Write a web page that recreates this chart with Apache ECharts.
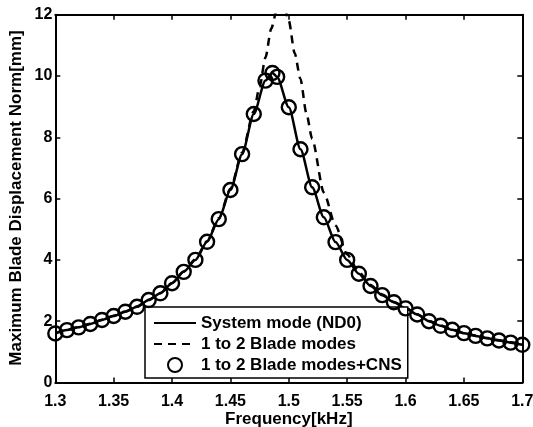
<!DOCTYPE html>
<html>
<head>
<meta charset="utf-8">
<script src="https://cdn.jsdelivr.net/npm/echarts@6/dist/echarts.min.js"></script>
<style>
  html, body { margin: 0; padding: 0; background: #fff; }
  #chart { width: 533px; height: 427px; }
</style>
</head>
<body>
<div id="chart"></div>
<script>
// Frequency sweep [kHz] for the system-mode solution and the CNS markers
const freqs = [1.30,1.31,1.32,1.33,1.34,1.35,1.36,1.37,1.38,1.39,1.40,1.41,1.42,1.43,1.44,1.45,1.46,1.47,1.48,1.486,1.49,1.50,1.51,1.52,1.53,1.54,1.55,1.56,1.57,1.58,1.59,1.60,1.61,1.62,1.63,1.64,1.65,1.66,1.67,1.68,1.69,1.70];

// System mode (ND0) response [mm]
const systemMode = [1.60,1.71,1.80,1.91,2.04,2.17,2.31,2.47,2.69,2.91,3.24,3.61,4.00,4.59,5.33,6.28,7.45,8.76,9.85,10.10,9.97,8.98,7.61,6.37,5.39,4.58,4.00,3.55,3.15,2.85,2.62,2.42,2.22,2.00,1.85,1.72,1.61,1.52,1.44,1.37,1.30,1.23];

// 1 to 2 Blade modes + CNS response [mm]
const bladeCns = [1.60,1.71,1.80,1.91,2.04,2.17,2.31,2.47,2.69,2.91,3.24,3.61,4.00,4.59,5.33,6.28,7.45,8.76,9.85,10.10,9.97,8.98,7.61,6.37,5.39,4.58,4.00,3.55,3.15,2.85,2.62,2.42,2.22,2.00,1.85,1.72,1.61,1.52,1.44,1.37,1.30,1.23];

// 1 to 2 Blade modes, sampled more finely around its resonance
const bladeFreqs = [1.30,1.31,1.32,1.33,1.34,1.35,1.36,1.37,1.38,1.39,1.40,1.41,1.42,1.43,1.44,1.45,1.46,1.47,1.475,1.48,1.485,1.49,1.495,1.50,1.505,1.51,1.515,1.52,1.53,1.54,1.55,1.56,1.57,1.58,1.59,1.60,1.61,1.62,1.63,1.64,1.65,1.66,1.67,1.68,1.69,1.70];
const bladeModes = [1.61,1.72,1.81,1.92,2.05,2.18,2.32,2.48,2.70,2.92,3.25,3.62,4.02,4.61,5.36,6.32,7.50,8.85,9.65,10.60,11.55,12.20,12.45,11.80,10.75,9.90,8.80,7.95,6.20,5.12,4.18,3.60,3.18,2.87,2.63,2.43,2.23,2.01,1.86,1.73,1.62,1.53,1.45,1.38,1.31,1.24];

// Axis ranges and tick labels
const xRange = { min: 1.3, max: 1.7, step: 0.05 };
const yRange = { min: 0, max: 12, step: 2 };
const seriesNames = ['System mode (ND0)', '1 to 2 Blade modes', '1 to 2 Blade modes+CNS'];
const xTitle = 'Frequency[kHz]';
const yTitle = 'Maximum Blade Displacement Norm[mm]';

const FONT = 'Liberation Sans, Arial, Helvetica, sans-serif';
const pairs = (xs, ys) => xs.map((x, i) => [x, ys[i]]);

const chart = echarts.init(document.getElementById('chart'), null, { renderer: 'canvas' });

const axisCommon = {
  type: 'value',
  axisLine: { show: true, onZero: false, lineStyle: { color: '#000', width: 2 } },
  axisTick: { show: true, inside: true, length: 5, lineStyle: { color: '#000', width: 1.5 } },
  splitLine: { show: false }
};

const option = {
  backgroundColor: '#fff',
  animation: false,
  grid: {
    left: 55.3, right: 10.7, top: 14.7, bottom: 44.5,
    containLabel: false,
    outerBoundsMode: 'none'
  },
  xAxis: [
    Object.assign({}, axisCommon, {
      position: 'bottom',
      min: xRange.min, max: xRange.max, interval: xRange.step,
      axisLabel: {
        show: true, margin: 11, color: '#000', fontSize: 16, fontWeight: 'bold', fontFamily: FONT,
        showMinLabel: true, showMaxLabel: true,
        formatter: v => String(+v.toFixed(2))
      }
    }),
    Object.assign({}, axisCommon, {
      position: 'top',
      min: xRange.min, max: xRange.max, interval: xRange.step,
      axisLabel: { show: false }
    })
  ],
  yAxis: [
    Object.assign({}, axisCommon, {
      position: 'left',
      min: yRange.min, max: yRange.max, interval: yRange.step,
      axisLabel: {
        show: true, margin: 3, color: '#000', fontSize: 16, fontWeight: 'bold', fontFamily: FONT
      }
    }),
    Object.assign({}, axisCommon, {
      position: 'right',
      min: yRange.min, max: yRange.max, interval: yRange.step,
      axisLabel: { show: false }
    })
  ],
  legend: {
    left: 145, top: 307,
    orient: 'vertical',
    backgroundColor: '#fff',
    borderColor: '#000',
    borderWidth: 1.5,
    borderRadius: 0,
    padding: [6, 6, 3, 8],
    itemWidth: 42,
    itemHeight: 14,
    itemGap: 1,
    textStyle: { color: '#000', fontSize: 17, fontWeight: 'bold', fontFamily: FONT, lineHeight: 20 },
    data: seriesNames
  },
  graphic: [
    {
      type: 'text',
      x: 288.8, y: 419,
      style: {
        text: xTitle, fill: '#000', fontSize: 17, fontWeight: 'bold', fontFamily: FONT,
        align: 'center', verticalAlign: 'middle'
      }
    },
    {
      type: 'text',
      x: 16, y: 198,
      rotation: Math.PI / 2,
      style: {
        text: yTitle, fill: '#000', fontSize: 17, fontWeight: 'bold', fontFamily: FONT,
        align: 'center', verticalAlign: 'middle'
      }
    }
  ],
  series: [
    {
      name: seriesNames[0],
      type: 'line',
      data: pairs(freqs, systemMode),
      symbol: 'none',
      smooth: 0.25,
      smoothMonotone: 'x',
      clip: true,
      lineStyle: { color: '#000', width: 2.5, type: 'solid' },
      itemStyle: { color: 'rgba(0,0,0,0)', borderColor: 'rgba(0,0,0,0)' },
      z: 3
    },
    {
      name: seriesNames[1],
      type: 'line',
      data: pairs(bladeFreqs, bladeModes),
      symbol: 'none',
      smooth: 0.25,
      smoothMonotone: 'x',
      clip: true,
      lineStyle: { color: '#000', width: 2.5, type: [8, 6] },
      itemStyle: { color: 'rgba(0,0,0,0)', borderColor: 'rgba(0,0,0,0)' },
      z: 3
    },
    {
      name: seriesNames[2],
      type: 'scatter',
      data: pairs(freqs, bladeCns),
      symbol: 'circle',
      symbolSize: 14,
      clip: false,
      itemStyle: { color: 'rgba(0,0,0,0)', borderColor: '#000', borderWidth: 2.4, opacity: 1 },
      z: 4
    }
  ]
};

chart.setOption(option);
</script>
</body>
</html>
